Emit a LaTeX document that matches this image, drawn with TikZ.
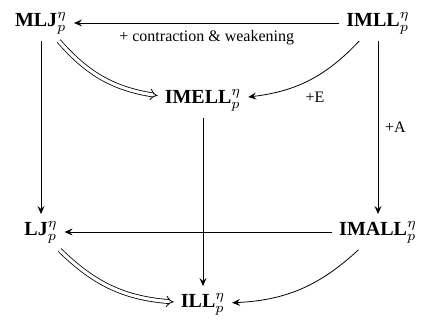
\documentclass[tikz,border=0pt]{standalone}
\usepackage{fontspec}
\setmainfont{Liberation Serif}
\usetikzlibrary{arrows.meta}
\begin{document}
\begin{tikzpicture}[x=0.5pt, y=-0.5pt, >={Stealth[length=4pt,width=3.5pt,inset=1.5pt]},
  lbl/.style={font=\footnotesize},
  dbl/.style={double, double distance=1.6pt, -{Implies}}]
  \useasboundingbox (0,0) rectangle (430,324);
  \node (mlj)   at (41,23)   {$\mathbf{MLJ}^\eta_p$};
  \node (imll)  at (378,23)  {$\mathbf{IMLL}^\eta_p$};
  \node (imell) at (203,100) {$\mathbf{IMELL}^\eta_p$};
  \node (lj)    at (41,232)  {$\mathbf{LJ}^\eta_p$};
  \node (imall) at (378,232) {$\mathbf{IMALL}^\eta_p$};
  \node (ill)   at (203,304) {$\mathbf{ILL}^\eta_p$};
  \draw[->] (imll) -- node[lbl, below] {+ contraction \& weakening} (mlj);
  \draw[->] (imll) to[bend left=20] node[lbl, pos=0.6, below right] {+E} (imell);
  \draw[->] (imll) -- node[lbl, right] {+A} (imall);
  \draw[->] (mlj) -- (lj);
  \draw[->] (imell) -- (ill);
  \draw[->] (imall) -- (lj);
  \draw[->] (imall) to[bend left=20] (ill);
  \draw[dbl] (mlj) to[bend right=20] (imell);
  \draw[dbl] (lj) to[bend right=20] (ill);
\end{tikzpicture}
\end{document}
